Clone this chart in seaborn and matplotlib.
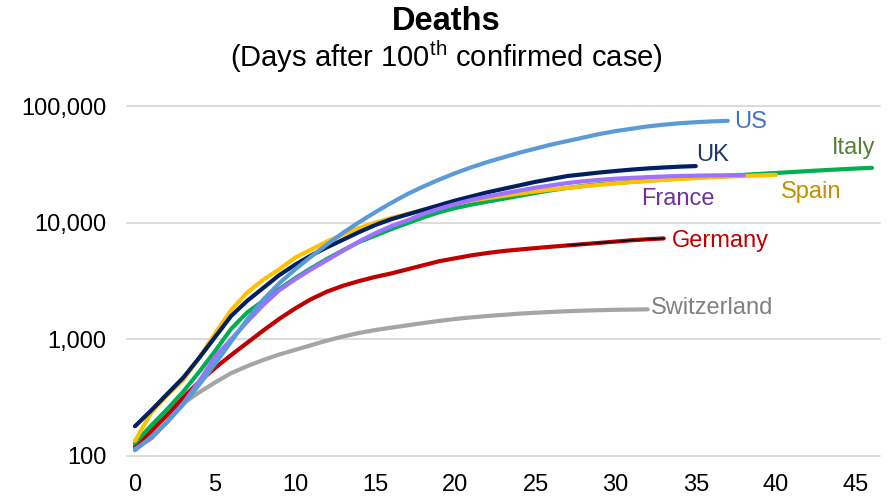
import numpy as np
import pandas as pd
import matplotlib
matplotlib.use("Agg")
import matplotlib.pyplot as plt
import seaborn as sns
from matplotlib.ticker import FixedLocator, NullLocator

# ---- data (deaths by day after 100th case) ----
us = [112, 145, 195, 275, 407, 617, 955, 1479, 2188, 3020, 3981, 5129, 6531, 8222,
      10120, 12300, 14790, 17580, 20420, 23440, 26610, 29850, 33110, 36310, 39810,
      43150, 46770, 50120, 53700, 57540, 60950, 63830, 66830, 69180, 71120, 72610,
      73790, 74640]
uk = [180, 245, 339, 468, 692, 1047, 1585, 2138, 2754, 3548, 4365, 5248, 6166, 7161,
      8318, 9550, 10720, 11750, 12880, 14130, 15490, 16790, 18200, 19500, 20890,
      22390, 23710, 25120, 26000, 26920, 27730, 28510, 29170, 29720, 30200, 30550]
spain = [135, 234, 331, 447, 692, 1122, 1780, 2512, 3236, 3981, 5012, 5888, 6918, 7943,
         9016, 10000, 10960, 11890, 12880, 13800, 14620, 15490, 16220, 16980, 17780,
         18540, 19230, 19860, 20510, 21130, 21730, 22280, 22800, 23280, 23710, 24100,
         24490, 24830, 25120, 25410, 25700]
france = [115, 141, 195, 282, 437, 708, 1000, 1413, 1972, 2630, 3273, 3981, 4786, 5754,
          6918, 8128, 9333, 10470, 11890, 13180, 14450, 15670, 16790, 17780, 18840,
          19950, 20890, 21880, 22650, 23280, 23820, 24210, 24550, 24890, 25120, 25290,
          25410, 25470, 25530]
italy = [129, 182, 251, 355, 525, 794, 1230, 1698, 2138, 2692, 3350, 4074, 4898, 5821,
         6839, 7762, 8810, 9886, 11090, 12300, 13340, 14290, 15140, 16030, 16980, 17990,
         18970, 19860, 20650, 21380, 21880, 22390, 22910, 23390, 23880, 24320, 24770,
         25230, 25700, 26180, 26670, 27160, 27670, 28180, 28640, 29110, 29510]
germany = [120, 162, 224, 316, 432, 569, 733, 933, 1189, 1496, 1841, 2213, 2570, 2884,
           3162, 3428, 3673, 3981, 4315, 4677, 4955, 5248, 5495, 5715, 5888, 6053, 6223,
           6383, 6546, 6714, 6887, 7063, 7211, 7328]
switzerland = [124, 170, 219, 282, 351, 427, 513, 589, 665, 741, 813, 891, 977, 1059,
               1135, 1202, 1259, 1318, 1380, 1439, 1496, 1542, 1585, 1622, 1660, 1690,
               1718, 1742, 1762, 1778, 1791, 1799, 1807]

countries = ["Switzerland", "Germany", "Italy", "Spain", "UK", "France", "US"]
series = {"US": us, "UK": uk, "Italy": italy, "Spain": spain, "France": france,
          "Germany": germany, "Switzerland": switzerland}
x_ticks = [0, 5, 10, 15, 20, 25, 30, 35, 40, 45]
y_ticks = [100, 1000, 10000, 100000]
y_tick_labels = ["100", "1,000", "10,000", "100,000"]

line_colors = {"US": "#5B9BD5", "UK": "#002060", "Italy": "#00B050", "Spain": "#FFC000",
               "France": "#A070FF", "Germany": "#C00000", "Switzerland": "#A5A5A5"}
label_colors = {"US": "#4472C4", "UK": "#1F3864", "Italy": "#548235", "Spain": "#BF9000",
                "France": "#7030A0", "Germany": "#C00000", "Switzerland": "#808080"}

rows = []
for name, vals in series.items():
    for d, v in enumerate(vals):
        rows.append((d, v, name))
df = pd.DataFrame(rows, columns=["Day", "Deaths", "Country"])

sns.set_style("white")
plt.rcParams["font.family"] = ["Liberation Sans", "DejaVu Sans"]
plt.rcParams["mathtext.fontset"] = "custom"
plt.rcParams["mathtext.rm"] = "Liberation Sans"
plt.rcParams["mathtext.default"] = "regular"
plt.rcParams["text.color"] = "black"

fig = plt.figure(figsize=(8.92, 4.99), dpi=100)
ax = fig.add_axes([127 / 892, 43 / 499, (880 - 127) / 892, 350 / 499])

for name in countries:
    sub = df[df["Country"] == name]
    sns.lineplot(data=sub, x="Day", y="Deaths", color=line_colors[name], lw=3,
                 estimator=None, ax=ax, legend=False, solid_capstyle="round",
                 solid_joinstyle="round", zorder=3)

# thin black segment visible on top of the Germany line
gsub = df[(df["Country"] == "Germany") & (df["Day"] >= 27)]
sns.lineplot(data=gsub, x="Day", y="Deaths", color="black", lw=1.0, estimator=None,
             ax=ax, legend=False, zorder=4)

ax.set_yscale("log")
ax.set_ylim(100, 100000)
ax.set_xlim(-0.5, 46.5)
ax.yaxis.set_major_locator(FixedLocator(y_ticks))
ax.yaxis.set_minor_locator(NullLocator())
ax.set_yticklabels(y_tick_labels)
ax.set_xticks(x_ticks)
ax.set_xticklabels([str(t) for t in x_ticks])
ax.tick_params(axis="both", length=0, labelsize=17, colors="black")
ax.tick_params(axis="x", pad=13)
ax.tick_params(axis="y", pad=15)
ax.set_xlabel("")
ax.set_ylabel("")
for s in ax.spines.values():
    s.set_visible(False)
ax.yaxis.grid(True, color="#D9D9D9", lw=1.3)
ax.xaxis.grid(False)
for gl in ax.get_ygridlines():
    gl.set_clip_on(False)

# end labels
lbl = {"US": (37.4, 73300, "left"), "UK": (35.0, 37900, "left"),
       "Italy": (46.2, 43500, "right"), "Spain": (40.3, 18400, "left"),
       "France": (31.6, 15850, "left"), "Germany": (33.5, 7000, "left"),
       "Switzerland": (32.2, 1850, "left")}
for name, (xx, yy, ha) in lbl.items():
    ax.text(xx, yy, name, color=label_colors[name], fontsize=17, ha=ha, va="center",
            zorder=5)

fig.text(0.5, 1 - 22 / 499, "Deaths", ha="center", va="center", fontsize=23.5,
         fontweight="bold", color="black")
fig.text(0.5, 1 - 57 / 499, "(Days after 100$^{th}$ confirmed case)", ha="center",
         va="center", fontsize=21, color="black")

fig.savefig("out.png", dpi=100)
